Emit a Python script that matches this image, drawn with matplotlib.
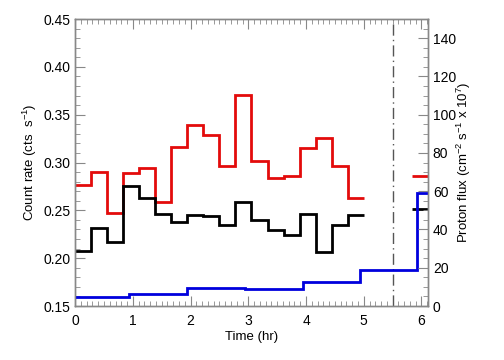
import matplotlib
matplotlib.use("Agg")
import matplotlib.pyplot as plt
import numpy as np
from matplotlib.ticker import MultipleLocator

plt.rcParams['font.family'] = ['Liberation Sans', 'DejaVu Sans']
plt.rcParams['mathtext.fontset'] = 'custom'
plt.rcParams['mathtext.rm'] = 'Liberation Sans'
plt.rcParams['mathtext.it'] = 'Liberation Sans'
plt.rcParams['mathtext.default'] = 'regular'

# 1000 s bins (in hours)
bin_hr = 1000.0 / 3600.0
n_bins = 18

# count rates, cts/s
red_rate = [0.277, 0.290, 0.247, 0.289, 0.294, 0.259, 0.316, 0.339, 0.329,
            0.296, 0.371, 0.302, 0.284, 0.286, 0.315, 0.326, 0.296, 0.263]
black_rate = [0.207, 0.232, 0.217, 0.275, 0.263, 0.246, 0.238, 0.245, 0.244,
              0.235, 0.259, 0.240, 0.229, 0.224, 0.246, 0.206, 0.235, 0.245]
# last bin after the gap (bin index 21)
red_last = 0.286
black_last = 0.251
last_bin = 21

# proton flux, cm^-2 s^-1 x 10^7
proton_edges = [0, 0.93, 1.94, 2.95, 3.94, 4.94, 5.93, 22000 / 3600.0]
proton_flux = [4.9, 6.1, 9.2, 8.7, 12.7, 18.8, 59.0]

marker_time = 5.5

fig = plt.figure(figsize=(5.04, 3.6), dpi=100)
ax = fig.add_axes([0.149, 0.15, 0.700, 0.797])
ax2 = ax.twinx()

edges = np.arange(n_bins + 1) * bin_hr
last_edges = np.array([last_bin, last_bin + 1]) * bin_hr

ax.stairs(red_rate, edges, baseline=None, color='#e30b0b', lw=2.0)
ax.stairs([red_last], last_edges, baseline=None, color='#e30b0b', lw=2.0)
ax.stairs(black_rate, edges, baseline=None, color='black', lw=2.0)
ax.stairs([black_last], last_edges, baseline=None, color='black', lw=2.0)
ax2.stairs(proton_flux, proton_edges, baseline=None, color='#0000dd', lw=2.0)

ax.axvline(marker_time, color='#555555', lw=1.0, ls=(0, (8, 3, 1, 3)))

ax.set_xlim(0, 22000 / 3600.0)
ax.set_ylim(0.15, 0.45)
ax2.set_ylim(0, 150)

ax.xaxis.set_major_locator(MultipleLocator(1))
ax.xaxis.set_minor_locator(MultipleLocator(0.1))
ax.yaxis.set_major_locator(MultipleLocator(0.05))
ax.yaxis.set_minor_locator(MultipleLocator(0.01))
ax.yaxis.set_major_formatter(matplotlib.ticker.FormatStrFormatter('%.2f'))
ax2.yaxis.set_major_locator(MultipleLocator(20))
ax2.yaxis.set_minor_locator(MultipleLocator(5))

spine_col = '#888888'
for a in (ax, ax2):
    for s in a.spines.values():
        s.set_color(spine_col)
        s.set_linewidth(1.0)

ax.tick_params(axis='x', which='both', direction='in', top=True, bottom=True,
               color=spine_col, labelsize=10, pad=6)
ax.tick_params(axis='x', which='major', length=7)
ax.tick_params(axis='x', which='minor', length=3.5)
ax.tick_params(axis='y', which='both', direction='in', left=True, right=False,
               color=spine_col, labelsize=10)
ax.tick_params(axis='y', which='major', length=7)
ax.tick_params(axis='y', which='minor', length=3.5)
ax2.tick_params(axis='y', which='both', direction='in', color=spine_col, labelsize=10)
ax2.tick_params(axis='y', which='major', length=7)
ax2.tick_params(axis='y', which='minor', length=3.5)

ax.set_xlabel('Time (hr)', fontsize=9.5, labelpad=2)
ax.set_ylabel('Count rate (cts  s$^{-1}$)', fontsize=9.5, labelpad=3)
ax2.set_ylabel('Proton flux (cm$^{-2}$ s$^{-1}$ x 10$^{7}$)', fontsize=9.5,
               rotation=90, labelpad=-1)

fig.savefig('out.png', dpi=100)
